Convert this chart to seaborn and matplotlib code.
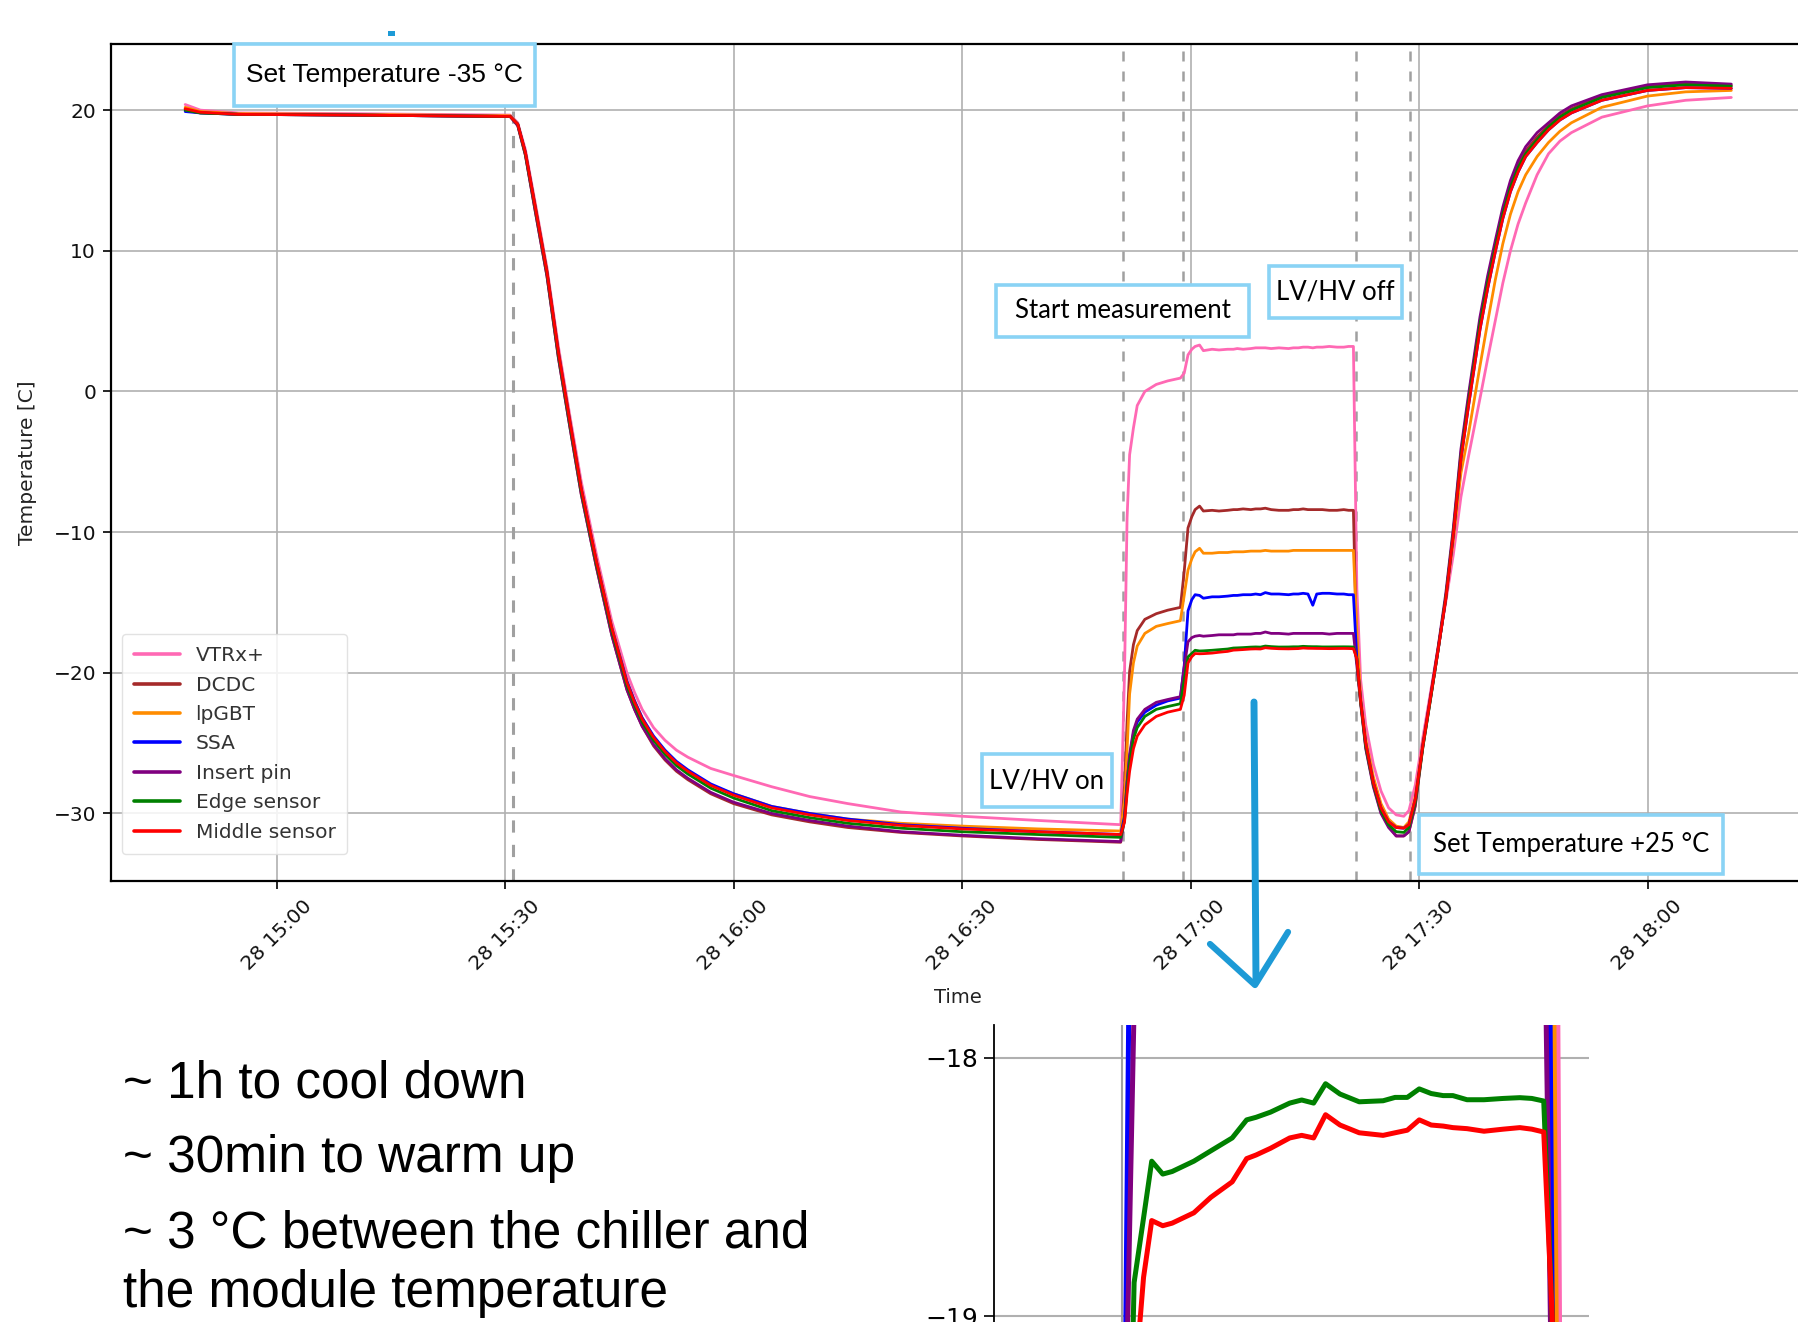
import numpy as np
import pandas as pd
import matplotlib
matplotlib.use("Agg")
import matplotlib.pyplot as plt
import matplotlib.dates as mdates
from matplotlib.patches import Rectangle
from matplotlib.lines import Line2D
from matplotlib import font_manager
import seaborn as sns

# ---------------- data ----------------
times = [
    # phase A: stable at room temperature
    "14:48:00", "14:50:00", "14:55:00", "15:10:00", "15:20:00", "15:30:40",
    # phase B: cool down
    "15:31:40", "15:32:40", "15:34:00", "15:35:30", "15:37:00", "15:38:30", "15:40:00",
    "15:42:00", "15:44:00", "15:46:00", "15:47:00", "15:48:00", "15:49:30", "15:51:00",
    "15:52:30", "15:54:00", "15:57:00", "16:00:00", "16:05:00", "16:10:00", "16:15:00",
    "16:22:00", "16:30:00", "16:40:00", "16:50:50",
    # phase C: LV/HV on
    "16:51:20", "16:51:40", "16:52:00", "16:52:30", "16:53:00", "16:54:00", "16:55:30",
    "16:57:00", "16:58:40",
    # phase D: start measurement
    "16:59:10", "16:59:40", "17:00:10", "17:00:36", "17:01:11", "17:01:41",
    # phase E: plateau
    "17:02:50", "17:03:44", "17:04:52", "17:05:38", "17:06:08", "17:06:54", "17:07:55",
    "17:08:33", "17:09:11", "17:09:49", "17:10:35", "17:11:36", "17:12:52", "17:13:30",
    "17:14:09", "17:14:47", "17:15:25", "17:16:03", "17:16:34", "17:17:19", "17:18:13",
    "17:19:14", "17:20:07", "17:20:45", "17:21:23",
    # phase F: LV/HV off and warm up
    "17:21:50", "17:22:20", "17:23:00", "17:24:00", "17:25:00", "17:26:00", "17:27:00",
    "17:28:00", "17:28:40", "17:29:30", "17:30:30", "17:31:30", "17:32:30", "17:33:30",
    "17:34:30", "17:35:30", "17:36:30", "17:38:00", "17:39:00", "17:40:00", "17:41:00",
    "17:42:00", "17:43:00", "17:44:00", "17:45:30", "17:47:00", "17:48:30", "17:50:00",
    "17:54:00", "18:00:00", "18:05:00", "18:11:00",
]

vtrx = [
    20.4, 20.0, 19.8, 19.75, 19.7, 19.65,
    19.1, 17.2, 13.3, 8.8, 3.2, -1.7, -6.4, -11.6, -16.3, -20.0, -21.4, -22.6, -23.9, -24.8,
    -25.5, -26.0, -26.8, -27.3, -28.1, -28.8, -29.3, -29.9, -30.2, -30.5, -30.8,
    -20.0, -9.0, -4.5, -2.6, -1.0, 0.0, 0.5, 0.75, 0.95,
    1.3, 2.6, 3.0, 3.2, 3.3, 2.9,
    3.0, 2.95, 3.0, 3.0, 3.05, 3.0, 3.05, 3.1, 3.1, 3.1, 3.05, 3.1, 3.05, 3.1, 3.1, 3.15,
    3.15, 3.1, 3.15, 3.15, 3.2, 3.15, 3.15, 3.2, 3.2,
    -14.0, -20.5, -23.7, -26.5, -28.4, -29.6, -30.1, -30.2, -29.8, -28.0, -24.6, -21.4,
    -18.2, -15.0, -11.6, -7.5, -4.6, -0.5, 2.3, 5.0, 7.7, 10.0, 11.9, 13.4, 15.4, 16.9,
    17.8, 18.4, 19.5, 20.3, 20.7, 20.9,
]
dcdc = [
    20.1, 19.85, 19.7, 19.65, 19.6, 19.55,
    18.9, 16.8, 12.7, 8.2, 2.4, -2.5, -7.3, -12.5, -17.3, -21.2, -22.6, -23.8, -25.2, -26.2,
    -27.0, -27.6, -28.6, -29.3, -30.1, -30.6, -31.0, -31.35, -31.6, -31.85, -32.05,
    -28.0, -23.5, -19.9, -18.0, -17.0, -16.2, -15.8, -15.55, -15.35,
    -12.8, -9.7, -8.9, -8.4, -8.15, -8.5,
    -8.45, -8.5, -8.45, -8.4, -8.4, -8.35, -8.4, -8.35, -8.35, -8.3, -8.4, -8.45, -8.45, -8.4,
    -8.4, -8.35, -8.4, -8.4, -8.4, -8.4, -8.45, -8.45, -8.4, -8.45, -8.45,
    -19.0, -22.0, -25.3, -28.0, -29.9, -30.9, -31.6, -31.6, -31.3, -29.5, -25.3, -21.9,
    -18.4, -14.7, -10.0, -4.4, -0.5, 5.0, 7.9, 10.4, 12.8, 14.7, 16.1, 17.1, 18.1, 18.9,
    19.6, 20.1, 21.0, 21.7, 21.9, 21.75,
]
lpgbt = [
    20.2, 19.9, 19.75, 19.7, 19.65, 19.6,
    19.0, 17.0, 13.1, 8.6, 2.9, -2.0, -6.8, -12.0, -16.7, -20.6, -22.0, -23.2, -24.6, -25.6,
    -26.4, -27.0, -28.0, -28.6, -29.5, -30.0, -30.4, -30.7, -30.9, -31.1, -31.25,
    -29.0, -25.5, -21.5, -19.3, -18.1, -17.2, -16.7, -16.5, -16.3,
    -14.5, -12.7, -11.9, -11.4, -11.15, -11.5,
    -11.5, -11.45, -11.45, -11.4, -11.4, -11.4, -11.35, -11.35, -11.35, -11.3, -11.35, -11.35,
    -11.35, -11.3, -11.3, -11.3, -11.3, -11.3, -11.3, -11.3, -11.3, -11.3, -11.3, -11.3, -11.3,
    -17.0, -21.8, -24.7, -27.4, -29.3, -30.4, -30.9, -31.0, -30.6, -28.8, -25.0, -21.7,
    -18.3, -14.8, -10.6, -5.8, -3.0, 1.8, 4.9, 7.9, 10.5, 12.6, 14.2, 15.4, 16.7, 17.7,
    18.5, 19.1, 20.2, 21.0, 21.3, 21.4,
]
ssa = [
    19.9, 19.8, 19.7, 19.65, 19.6, 19.55,
    19.0, 17.0, 13.0, 8.5, 2.8, -2.1, -6.9, -12.1, -16.8, -20.6, -22.0, -23.2, -24.5, -25.5,
    -26.3, -26.9, -27.9, -28.6, -29.5, -30.0, -30.4, -30.8, -31.05, -31.3, -31.5,
    -30.2, -27.8, -26.0, -24.3, -23.5, -22.8, -22.3, -22.0, -21.8,
    -19.5, -15.6, -14.8, -14.45, -14.5, -14.7,
    -14.6, -14.6, -14.55, -14.5, -14.5, -14.45, -14.45, -14.4, -14.45, -14.3, -14.4, -14.4,
    -14.45, -14.4, -14.4, -14.35, -14.4, -15.2, -14.4, -14.35, -14.35, -14.4, -14.4, -14.45, -14.45,
    -19.0, -22.0, -25.0, -27.8, -29.6, -30.6, -31.0, -31.05, -30.8, -29.0, -25.2, -21.8,
    -18.4, -14.8, -10.2, -4.8, -1.0, 4.4, 7.3, 9.9, 12.3, 14.2, 15.6, 16.7, 17.7, 18.6,
    19.3, 19.8, 20.7, 21.4, 21.6, 21.55,
]
insert_pin = [
    20.0, 19.8, 19.7, 19.65, 19.6, 19.55,
    18.9, 16.8, 12.7, 8.2, 2.4, -2.5, -7.3, -12.5, -17.3, -21.2, -22.6, -23.8, -25.1, -26.1,
    -26.9, -27.5, -28.5, -29.2, -30.0, -30.5, -30.9, -31.3, -31.55, -31.8, -32.0,
    -30.4, -27.8, -25.8, -24.1, -23.3, -22.6, -22.1, -21.9, -21.7,
    -19.6, -17.8, -17.5, -17.4, -17.35, -17.4,
    -17.35, -17.3, -17.3, -17.3, -17.25, -17.25, -17.25, -17.2, -17.2, -17.1, -17.2, -17.2,
    -17.25, -17.2, -17.2, -17.2, -17.2, -17.2, -17.2, -17.2, -17.25, -17.2, -17.2, -17.2, -17.2,
    -19.5, -22.2, -25.4, -28.1, -30.0, -31.0, -31.6, -31.6, -31.3, -29.4, -25.1, -21.7,
    -18.2, -14.4, -9.7, -4.1, -0.2, 5.3, 8.2, 10.7, 13.1, 15.0, 16.4, 17.4, 18.4, 19.1,
    19.8, 20.3, 21.1, 21.8, 22.0, 21.85,
]
edge_sensor = [
    20.0, 19.8, 19.7, 19.65, 19.6, 19.55,
    19.0, 16.9, 12.9, 8.4, 2.6, -2.3, -7.1, -12.3, -17.0, -20.9, -22.3, -23.5, -24.8, -25.8,
    -26.6, -27.2, -28.2, -28.9, -29.8, -30.3, -30.7, -31.05, -31.3, -31.5, -31.7,
    -30.5, -28.2, -26.4, -24.7, -23.9, -23.1, -22.6, -22.4, -22.2,
    -20.5, -18.87, -18.62, -18.40, -18.45, -18.44,
    -18.40, -18.36, -18.31, -18.24, -18.23, -18.21, -18.175, -18.163, -18.175, -18.10, -18.14,
    -18.17, -18.166, -18.153, -18.153, -18.12, -18.138, -18.146, -18.146, -18.162, -18.162,
    -18.157, -18.154, -18.157, -18.167,
    -19.0, -22.1, -25.2, -27.9, -29.8, -30.8, -31.3, -31.35, -31.0, -29.2, -25.3, -21.9,
    -18.4, -14.7, -10.1, -4.6, -0.7, 4.8, 7.7, 10.2, 12.6, 14.5, 15.9, 16.9, 17.9, 18.8,
    19.5, 20.0, 20.9, 21.6, 21.8, 21.7,
]
middle_sensor = [
    20.1, 19.85, 19.7, 19.65, 19.6, 19.55,
    19.0, 17.0, 13.0, 8.5, 2.8, -2.1, -6.9, -12.1, -16.8, -20.7, -22.1, -23.3, -24.6, -25.6,
    -26.4, -27.0, -28.0, -28.7, -29.6, -30.1, -30.5, -30.85, -31.1, -31.3, -31.5,
    -30.6, -28.6, -27.0, -25.4, -24.5, -23.7, -23.1, -22.8, -22.6,
    -21.6, -19.3, -18.85, -18.63, -18.65, -18.64,
    -18.60, -18.54, -18.48, -18.39, -18.376, -18.35, -18.31, -18.30, -18.31, -18.22, -18.26,
    -18.29, -18.30, -18.29, -18.28, -18.24, -18.26, -18.264, -18.27, -18.274, -18.284,
    -18.276, -18.27, -18.276, -18.287,
    -19.0, -22.0, -25.0, -27.8, -29.6, -30.6, -31.0, -31.05, -30.8, -29.0, -25.2, -21.8,
    -18.4, -14.8, -10.2, -4.8, -1.0, 4.4, 7.3, 9.9, 12.3, 14.2, 15.6, 16.7, 17.7, 18.6,
    19.3, 19.8, 20.7, 21.4, 21.6, 21.55,
]

sensors = ["VTRx+", "DCDC", "lpGBT", "SSA", "Insert pin", "Edge sensor", "Middle sensor"]
series = [vtrx, dcdc, lpgbt, ssa, insert_pin, edge_sensor, middle_sensor]
colors = ["#ff69b4", "#a52a2a", "#ff8c00", "#0000ff", "#800080", "#008000", "#ff0000"]
event_times = ["15:31:00", "16:51:10", "16:59:00", "17:21:45", "17:28:50"]
y_ticks = [-30, -20, -10, 0, 10, 20]
inset_y_ticks = [-19, -18]
inset_start = "16:58:40"
day = "2022-11-28 "

# ---------------- build table ----------------
t_index = pd.to_datetime([day + t for t in times])
frames = []
for name, vals in zip(sensors, series):
    frames.append(pd.DataFrame({"time": t_index, "temp": vals, "sensor": name}))
df = pd.concat(frames, ignore_index=True)
palette = dict(zip(sensors, colors))


def has_font(name):
    try:
        font_manager.findfont(font_manager.FontProperties(family=name),
                              fallback_to_default=False)
        return True
    except Exception:
        return False


narrow = has_font("Liberation Sans Narrow")

# ---------------- style ----------------
sns.set_style("whitegrid", {"grid.color": "#b0b0b0", "axes.edgecolor": "black"})
plt.rcParams["font.family"] = ["DejaVu Sans"]

W, H = 1799, 1322


def fx(x):
    return x / W


def fy(y):
    return 1 - y / H


fig = plt.figure(figsize=(W / 100, H / 100), dpi=100)
fig.patch.set_facecolor("white")

# ---------------- main axes ----------------
ax = fig.add_axes([fx(111.3), fy(881.1), (1817 - 111.3) / W, (881.1 - 43.6) / H])
sns.lineplot(data=df, x="time", y="temp", hue="sensor", hue_order=sensors,
             palette=palette, sort=False, estimator=None, linewidth=2.0, ax=ax)
for i, et in enumerate(event_times):
    ax.axvline(pd.Timestamp(day + et), color="#a0a0a0", ls=(0, (4, 4)),
               lw=2.2 if i == 0 else 1.8, zorder=1)

ax.set_xlim(pd.Timestamp(day + "14:38:18"), pd.Timestamp(day + "18:22:15"))
ax.set_ylim(-34.81, 24.73)
ax.set_yticks(y_ticks)
ax.xaxis.set_major_locator(mdates.MinuteLocator(byminute=[0, 30]))
ax.xaxis.set_major_formatter(mdates.DateFormatter("%d %H:%M"))
ax.tick_params(axis="both", length=6, width=1.2, color="black", labelcolor="#111111",
               labelsize=14.5, left=True, bottom=True, pad=5)
for lab in ax.get_xticklabels():
    lab.set_rotation(45)
    lab.set_ha("center")
ax.grid(True, color="#b0b0b0", lw=1.2)
for side in ["left", "top", "bottom"]:
    ax.spines[side].set_color("black")
    ax.spines[side].set_linewidth(1.6)
ax.spines["right"].set_visible(False)
ax.set_xlabel("Time", fontsize=14, color="#222222")
ax.xaxis.set_label_coords(0.4964, -0.128)
ax.set_ylabel("Temperature [C]", fontsize=14.5, color="#222222")
ax.yaxis.set_label_coords(-0.0437, 0.5)

handles, labels = ax.get_legend_handles_labels()
if ax.legend_ is not None:
    ax.legend_.remove()
leg = ax.legend(handles, labels, loc="upper left", bbox_to_anchor=(fx(122), fy(634)),
                bbox_transform=fig.transFigure, borderaxespad=0, fontsize=14.5,
                handlelength=2.3, handletextpad=0.75, labelspacing=0.52, frameon=True,
                fancybox=True, framealpha=0.85, edgecolor="#dddddd", borderpad=0.6)
for h in leg.get_lines():
    h.set_linewidth(2.6)
for t in leg.get_texts():
    t.set_color("#333333")

# ---------------- inset (zoom of the plateau) ----------------
df_in = df[df["time"] >= pd.Timestamp(day + inset_start)]
ax2 = fig.add_axes([fx(993.6), fy(1400), (1589 - 993.6) / W, (1400 - 1024.6) / H])
sns.lineplot(data=df_in, x="time", y="temp", hue="sensor", hue_order=sensors,
             palette=palette, sort=False, estimator=None, linewidth=3.6, ax=ax2,
             legend=False)
for et in event_times[2:4]:
    ax2.axvline(pd.Timestamp(day + et), color="#a0a0a0", lw=1.5, zorder=1)
ax2.set_xlim(pd.Timestamp(day + "16:52:13"), pd.Timestamp(day + "17:23:47"))
ax2.set_ylim(-19.325, -17.871)
ax2.set_yticks(inset_y_ticks)
ax2.set_xticks([])
ax2.set_xlabel("")
ax2.set_ylabel("")
ax2.grid(False)
ax2.grid(True, axis="y", color="#b0b0b0", lw=1.5)
for side in ["top", "right", "bottom"]:
    ax2.spines[side].set_visible(False)
ax2.spines["left"].set_color("black")
ax2.spines["left"].set_linewidth(1.3)
ax2.tick_params(axis="y", length=7, width=1.2, color="black", labelsize=18,
                labelcolor="black", left=True, pad=4)

# ---------------- annotation boxes ----------------
narrow_fam = ["Liberation Sans Narrow"] if narrow else ["Liberation Sans"]
boxes = [
    (234, 44, 535, 106, "Set Temperature -35 °C", narrow_fam, 21 if narrow else 19),
    (996, 285, 1249, 337, "Start measurement", ["Lato", "DejaVu Sans"], 18.5),
    (1269, 266, 1402, 318, "LV/HV off", ["Lato", "DejaVu Sans"], 18.5),
    (982, 754, 1112, 807, "LV/HV on", ["Lato", "DejaVu Sans"], 18.5),
    (1419, 815, 1723, 874, "Set Temperature +25 °C", ["Lato", "DejaVu Sans"], 18.5),
]
for x0, y0, x1, y1, txt, fam, fs in boxes:
    fig.add_artist(Rectangle((fx(x0), fy(y1)), (x1 - x0) / W, (y1 - y0) / H,
                             transform=fig.transFigure, facecolor="white",
                             edgecolor="#8ad3f5", lw=2.6, zorder=5))
    fig.text(fx((x0 + x1) / 2), fy((y0 + y1) / 2), txt, ha="center", va="center",
             fontsize=fs, family=fam, color="black", zorder=6)

# ---------------- hand-drawn arrow ----------------
arrow_col = "#1d9ad6"
fig.add_artist(Line2D([fx(1254), fx(1256)], [fy(702), fy(982)], transform=fig.transFigure,
                      color=arrow_col, lw=5, solid_capstyle="round", zorder=7))
fig.add_artist(Line2D([fx(1210), fx(1255), fx(1288)], [fy(944), fy(985), fy(932)],
                      transform=fig.transFigure, color=arrow_col, lw=4.5,
                      solid_capstyle="round", solid_joinstyle="round", zorder=7))
fig.add_artist(Rectangle((fx(388), fy(36)), 7 / W, 5 / H, transform=fig.transFigure,
                         facecolor="#1d9ad6", edgecolor="none", zorder=7))

# ---------------- slide text ----------------
notes = [
    (123, 1097, "~ 1h to cool down"),
    (123, 1172, "~ 30min to warm up"),
    (123, 1248, "~ 3 °C between the chiller and"),
    (123, 1307, "the module temperature"),
]
note_fam = ["Liberation Sans Narrow", "Liberation Sans"] if narrow else ["Liberation Sans"]
note_fs = 40 if narrow else 37
for x, y, txt in notes:
    fig.text(fx(x), fy(y), txt, ha="left", va="baseline", fontsize=note_fs,
             family=note_fam, color="black")

fig.savefig("out.png", dpi=100, facecolor="white")
